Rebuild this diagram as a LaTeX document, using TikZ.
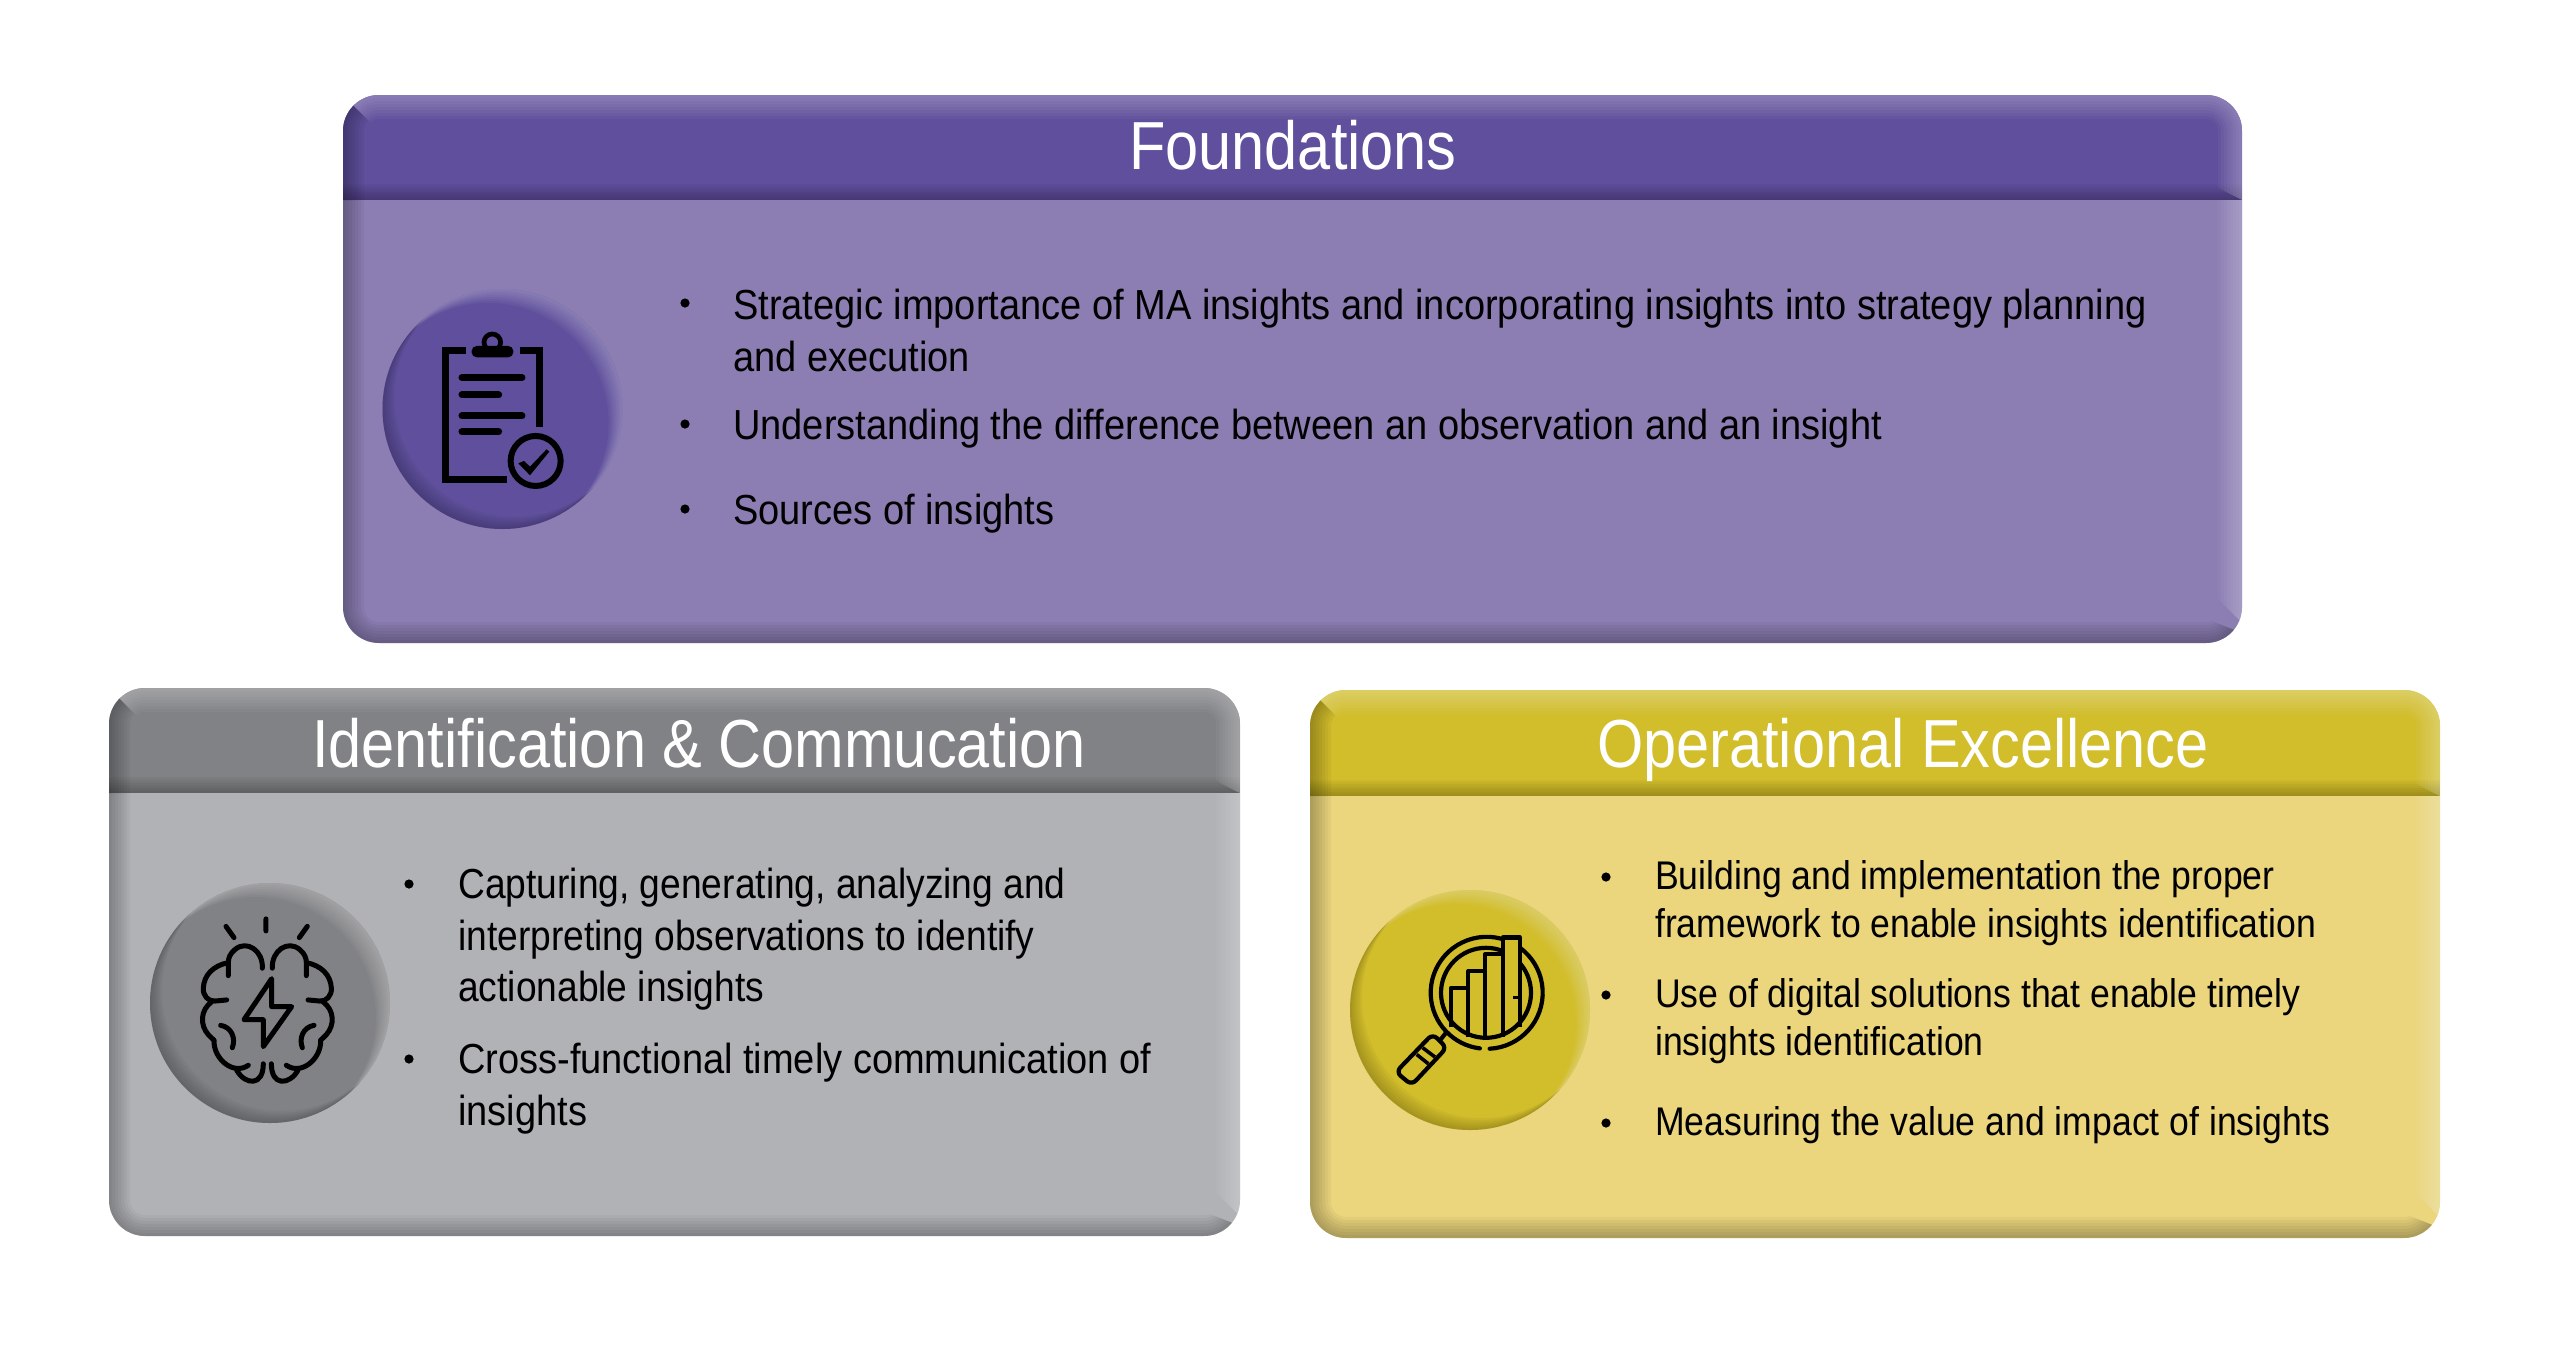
\documentclass[tikz,border=0pt]{standalone}
\usepackage{fontspec}
\setmainfont{Liberation Sans}[FakeStretch=0.905]
\newfontfamily\ttlfont{Liberation Sans}[FakeStretch=0.875]
\newfontfamily\smfont{Liberation Sans}[FakeStretch=0.89]
\newfontfamily\grfont{Liberation Sans}[FakeStretch=0.885]
\definecolor{phead}{HTML}{5F4F9C}\definecolor{pbody}{HTML}{8C7DB3}
\definecolor{ghead}{HTML}{818285}\definecolor{gbody}{HTML}{B1B2B6}
\definecolor{yhead}{HTML}{D2BD2B}\definecolor{ybody}{HTML}{EBD57D}
\tikzset{
  ttl/.style={text=white,inner sep=0pt,anchor=base,font=\ttlfont\fontsize{68}{80}\selectfont},
  big/.style={text=black,inner sep=0pt,anchor=base west,align=left,font=\fontsize{42}{51.5}\selectfont},
  small/.style={text=black,inner sep=0pt,anchor=base west,align=left,font=\smfont\fontsize{40}{47.5}\selectfont},
  icon/.style={draw=black,line width=5pt,line cap=round,line join=round},
}
% x1 y1 x2 y2 yh head body
\newcommand\panel[7]{%
  \def\shp{[rounded corners=36pt] (#1,#2) rectangle (#3,#4)}%
  \fill[#7]\shp;
  \begin{scope}
    \clip\shp;
    \clip (#1,#5) -- (#1+26,#5) -- (#1+26,#4-26) -- (#3-40,#4-26) -- (#3,#4-10) -- (#3,#4) -- (#1,#4) -- cycle;
    \foreach \d in {3,6,...,21}{\draw[black,opacity=.04,line width=2*\d pt]\shp;}
  \end{scope}
  \begin{scope}
    \clip\shp;
    \clip (#3-26,#5) -- (#3,#5) -- (#3,#4-20) -- (#3-26,#4-46) -- cycle;
    \foreach \d in {3,6,...,24}{\draw[white,opacity=.035,line width=2*\d pt]\shp;}
  \end{scope}
  \begin{scope}
    \clip\shp; \clip (#1,#2) rectangle (#3,#5);
    \fill[#6] (#1,#2) rectangle (#3,#5);
    \foreach \d in {2,4,...,16}{\fill[black,opacity=.03] (#1,#5-\d) rectangle (#3,#5);}
    \begin{scope}
      \clip (#1,#2) -- (#1+32,#2+32) -- (#1+32,#5) -- (#1,#5) -- cycle;
      \foreach \d in {3,6,...,21}{\draw[black,opacity=.04,line width=2*\d pt]\shp;}
    \end{scope}
    \begin{scope}
      \clip (#1,#2) -- (#3,#2) -- (#3,#5) -- (#3-32,#5-16) -- (#3-32,#2+32) -- (#1+32,#2+32) -- cycle;
      \foreach \d in {3,6,...,24}{\draw[white,opacity=.04,line width=2*\d pt]\shp;}
    \end{scope}
  \end{scope}
}
% cx cy color
\newcommand\badge[3]{%
  \fill[#3] (#1,#2) circle[radius=120pt];
  \begin{scope}
    \clip (#1,#2) circle[radius=120pt];
    \foreach \d in {2,4,...,14}{\fill[white,opacity=.045,even odd rule] (#1,#2) circle[radius=122pt] (#1-\d,#2+\d) circle[radius=120pt];}
    \foreach \d in {2,4,...,12}{\fill[black,opacity=.035,even odd rule] (#1,#2) circle[radius=122pt] (#1+\d,#2-\d) circle[radius=120pt];}
  \end{scope}
}
\newcommand\blt[2]{\fill[black] (#1,#2) circle[radius=4.6pt];}
\newcommand\brainhalf{%
  \draw[icon] (487,772) .. controls (490,725) and (440,695) .. (405,722) .. controls (390,733) and (385,745) .. (385,757) -- (385,792);
  \draw[icon] (385,757) .. controls (340,765) and (312,790) .. (310,825) .. controls (308,845) and (325,862) .. (345,860) -- (380,857);
  \draw[icon] (335,862) .. controls (300,885) and (300,925) .. (325,950) -- (342,965);
  \draw[icon] (342,965) .. controls (340,1015) and (400,1060) .. (445,1032);
  \draw[icon] (410,1045) .. controls (435,1085) and (490,1090) .. (490,1028);
  \draw[icon] (362,925) .. controls (395,930) and (408,960) .. (397,985);
}
\begin{document}
\begin{tikzpicture}[x=1pt,y=-1pt]
\useasboundingbox (0,0) rectangle (2560,1369);
\fill[white] (0,0) rectangle (2560,1369);
\panel{343}{95}{2242}{643}{200}{phead}{pbody}
\panel{109}{688}{1240}{1236}{793}{ghead}{gbody}
\panel{1310}{690}{2440}{1238}{796}{yhead}{ybody}
\badge{502.5}{409}{phead}
\badge{270}{1003}{ghead}
\badge{1470}{1010}{yhead}
\node[ttl] (t1) at (1293,169) {Foundations};
\node[ttl] (t2) at (699,767) {Identification \& Commucation};
\node[ttl] (t3) at (1903,767) {Operational Excellence};
% purple
\blt{685}{303}\blt{685}{424}\blt{685}{509}
\node[big] (a1) at (733,371) {Strategic importance of MA insights and incorporating insights into strategy planning\\and execution};
\node[big] (a2) at (733,439) {Understanding the difference between an observation and an insight};
\node[big] (a3) at (733,524) {Sources of insights};
% grey
\blt{409}{884}\blt{409}{1059}
\node[big,font=\grfont\fontsize{42}{51.5}\selectfont] (b1) at (458,1001.5) {Capturing, generating, analyzing and\\interpreting observations to identify\\actionable insights};
\node[big] (b2) at (458,1125) {Cross-functional timely communication of\\insights};
% yellow
\blt{1606}{877}\blt{1606}{995}\blt{1606}{1123}
\node[small] (c1) at (1655,937) {Building and implementation the proper\\framework to enable insights identification};
\node[small] (c2) at (1655,1055) {Use of digital solutions that enable timely\\insights identification};
\node[small] (c3) at (1655,1135) {Measuring the value and impact of insights};
% clipboard
\begin{scope}[shift={(330,80)},x=.3333pt,y=-.3333pt]
  \draw[icon,line width=7.2pt,line cap=butt,line join=miter] (407,812) -- (347,812) -- (347,1198) -- (530,1198);
  \draw[icon,line width=7.2pt,line cap=butt,line join=miter] (570,812) -- (628,812) -- (628,1040);
  \fill[black,rounded corners=5pt] (425,832) -- (425,798) -- (550,798) -- (550,832) -- cycle;
  \draw[black,line width=4.7pt] (487,787) circle[radius=8.3pt];
  \foreach \yy/\xx in {893/582,945/512,1008/582,1055/512}{\draw[black,line width=7pt,line cap=round] (396,\yy) -- (\xx-6,\yy);}
  \draw[black,line width=6pt] (617,1143) circle[radius=25pt];
  \fill[black] (565,1150) -- (582,1143) -- (600,1160) -- (650,1108) -- (658,1115) -- (600,1186) -- cycle;
\end{scope}
% brain
\begin{scope}[shift={(100,680)},x=.3333pt,y=-.3733pt]
  \brainhalf
  \draw[icon] (378,660) -- (402,690) (498,640) -- (498,672) (622,660) -- (598,690);
  \draw[icon] (515,800) -- (432,910) -- (490,910) -- (490,982) -- (575,875) -- (515,875) -- cycle;
\end{scope}
\begin{scope}[shift={(434.67,680)},x=-.3333pt,y=-.3733pt]
  \brainhalf
\end{scope}
% magnifier
\coordinate (mc) at (1486.7,992.8);
\draw[icon,line width=4.2pt] (mc) ++(-87:56pt) arc[start angle=-87,end angle=263,radius=56pt];
\draw[icon,line width=4.2pt] (1486,992.8) circle[radius=45pt];
\begin{scope}[shift={(1300,680)},x=.3333pt,y=-.3733pt]
  \fill[yhead] (608,690) rectangle (660,790);
  \draw[icon,line width=4.2pt,line cap=butt] (453,930) -- (453,825) -- (505,825);
  \draw[icon,line width=4.2pt,line cap=butt] (505,955) -- (505,780) -- (555,780);
  \draw[icon,line width=4.2pt,line cap=butt] (555,965) -- (555,735) -- (608,735);
  \draw[icon,line width=4.2pt,line cap=butt] (608,955) -- (608,690) -- (660,690) -- (660,930);
  \draw[icon,line width=3.6pt,line cap=butt] (660,850) -- (640,850);
  \draw[icon,line width=4.2pt,rounded corners=6pt] (398,948) -- (440,985) -- (335,1085) -- (288,1050) -- cycle;
  \draw[icon,line width=3.6pt,line cap=butt] (405,1010) -- (368,985) (385,1028) -- (350,1003);
  \draw[icon,line width=4.2pt,line cap=butt] (420,965) -- (438,945);
\end{scope}
\end{tikzpicture}
\end{document}
